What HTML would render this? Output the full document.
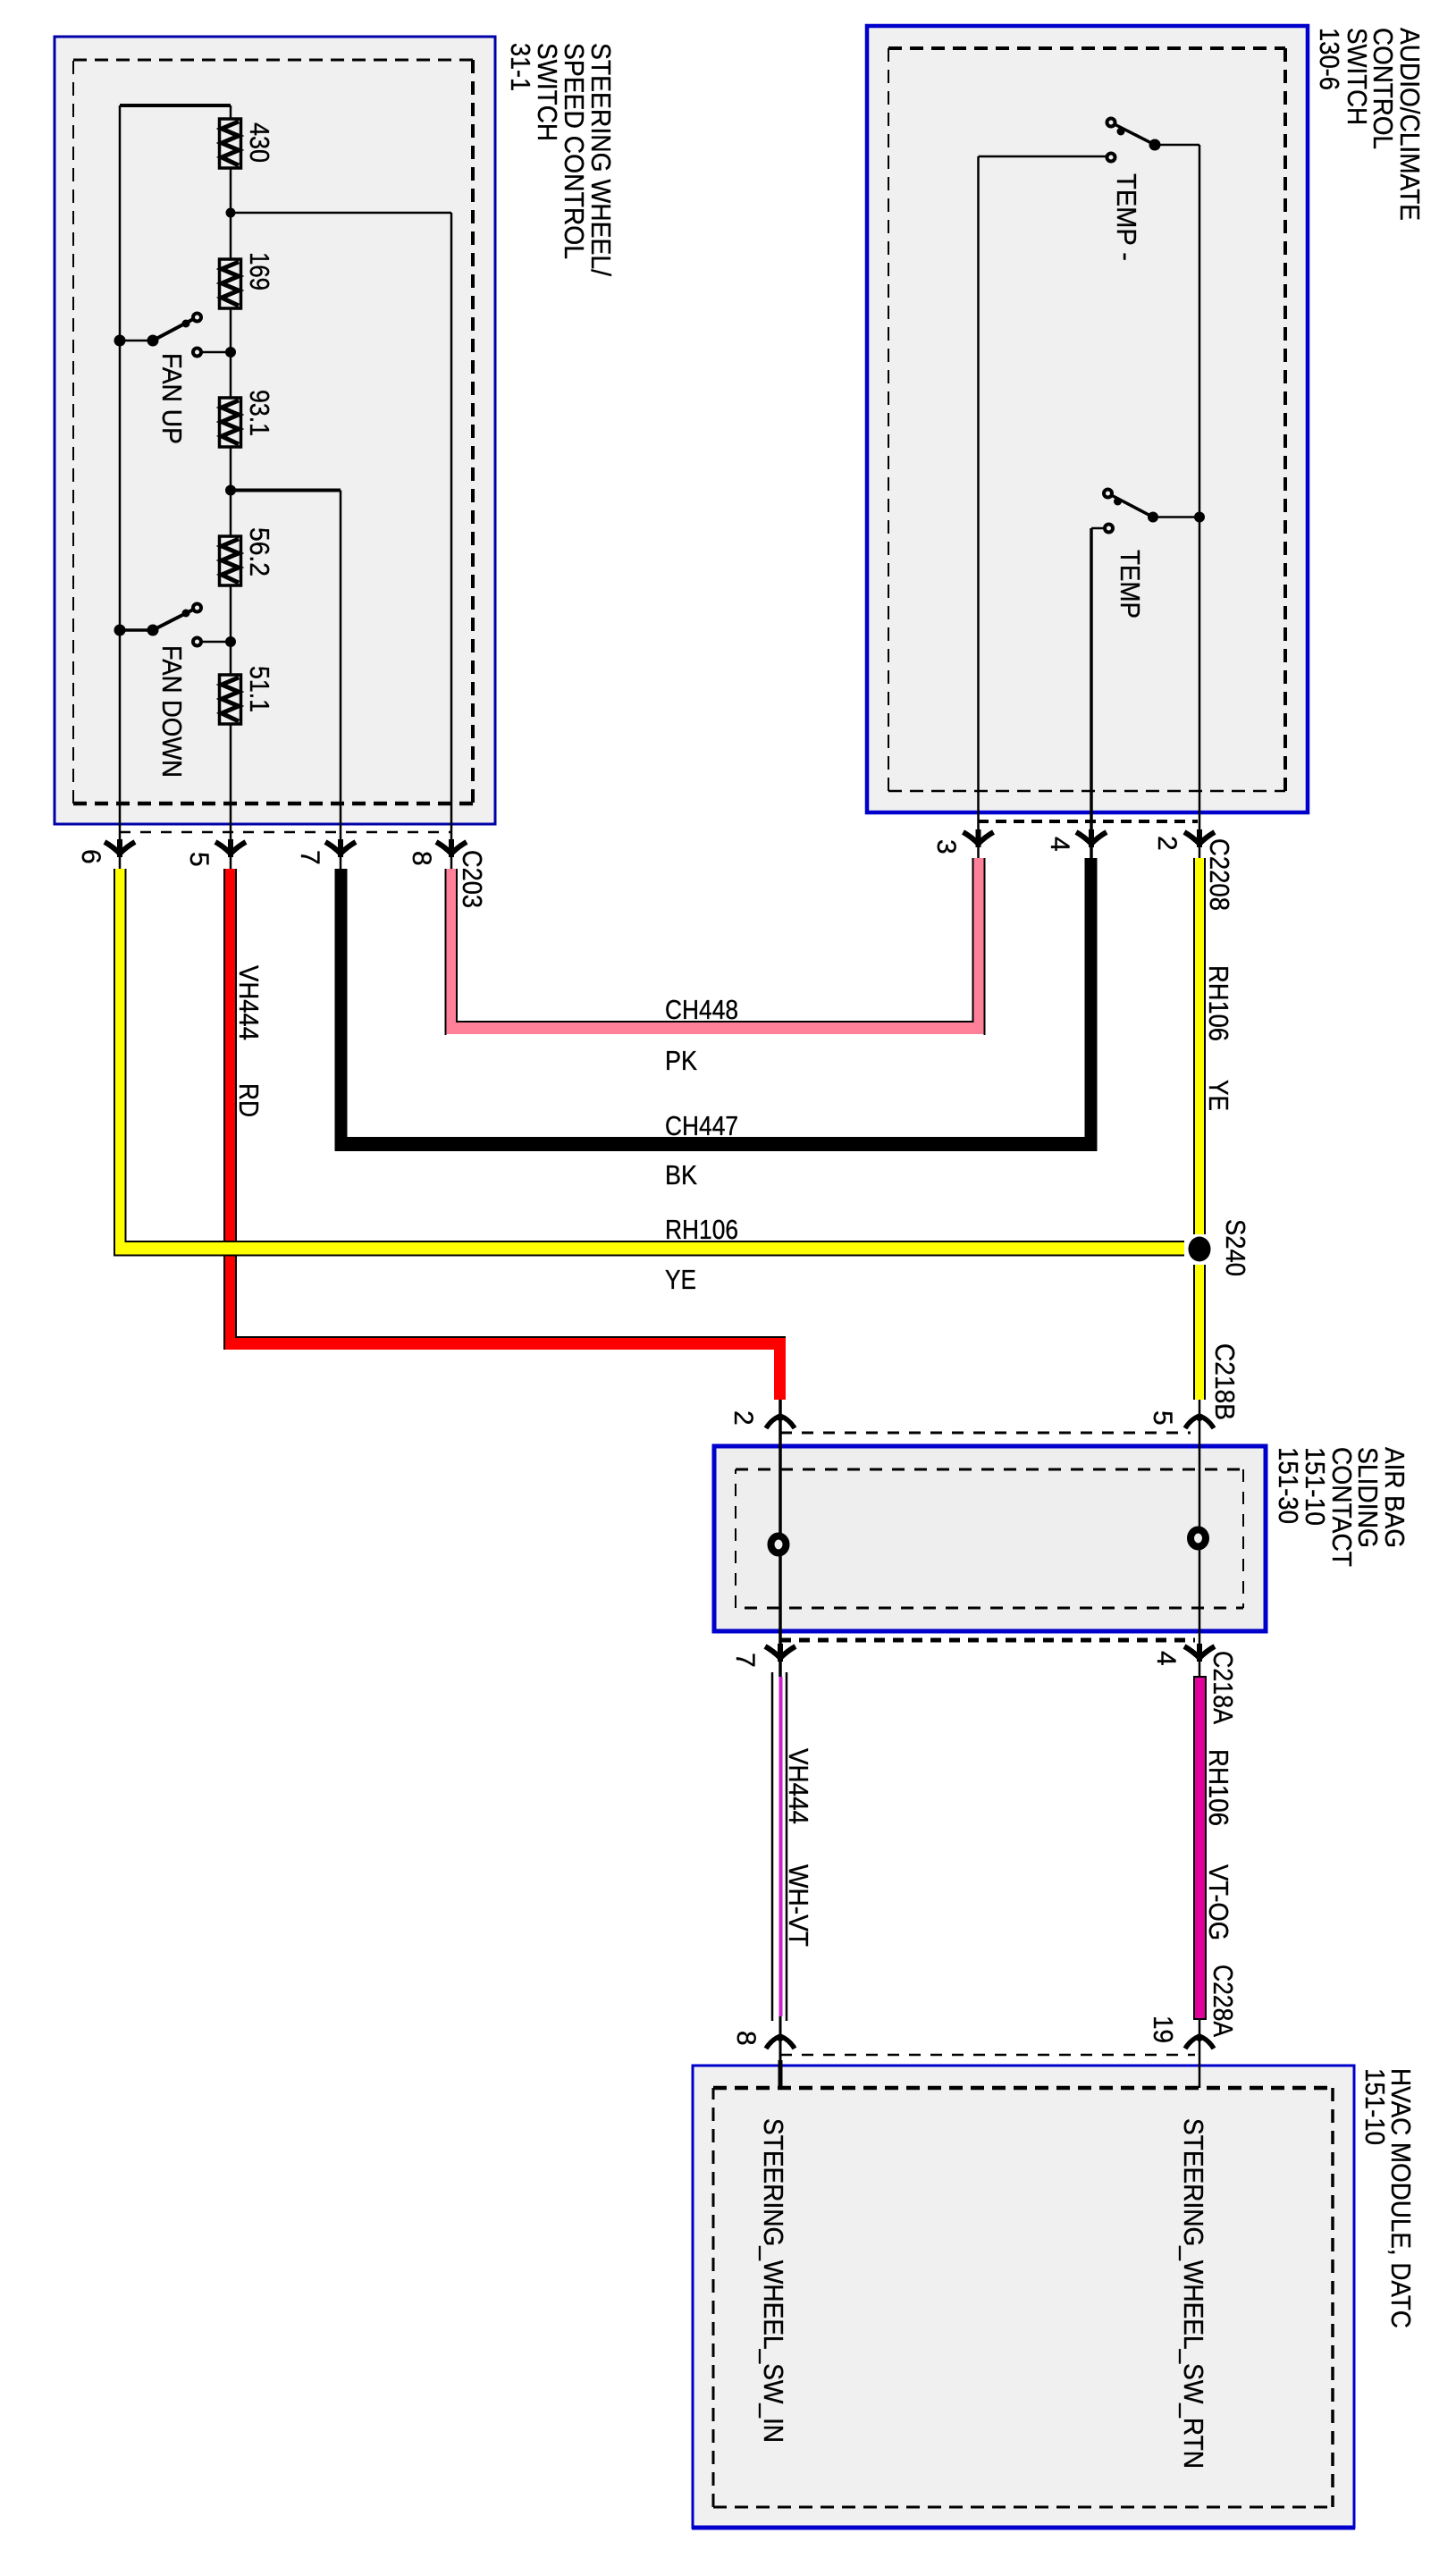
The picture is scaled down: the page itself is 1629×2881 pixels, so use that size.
<!DOCTYPE html>
<html>
<head>
<meta charset="utf-8">
<title>Wiring diagram</title>
<style>
html,body{margin:0;padding:0;background:#fff;width:1629px;height:2881px;overflow:hidden}
svg{display:block}
text{font-family:"Liberation Sans",Arial,sans-serif;font-size:31px;fill:#000;stroke:#000;stroke-width:.35px}
text:not([textLength]){font-size:30px}
</style>
</head>
<body>
<svg width="1629" height="2881" viewBox="0 0 1629 2881" xmlns="http://www.w3.org/2000/svg">
<defs>
<g id="res">
<rect x="245.5" y="133" width="24" height="55" fill="#f0f0f0" stroke="#000" stroke-width="3.5"/>
<polyline points="267,136 248,144 267,152 248,160 267,168 248,176 267,185" fill="none" stroke="#000" stroke-width="5"/>
</g>
<g id="fd" fill="none" stroke="#000">
<path d="M-17,-7 Q-8,-2 0,6 Q8,-2 17,-7" stroke-width="6"/>
<path d="M0,-10 V10" stroke-width="6"/>
<circle cx="0" cy="3" r="5" fill="#000" stroke="none"/>
</g>
<g id="fu" fill="none" stroke="#000">
<path d="M-16,8 Q-10,-2 0,-6 Q10,-2 16,8" stroke-width="5.5"/>
<circle cx="0" cy="-4" r="4" fill="#000" stroke="none"/>
</g>
</defs>
<rect width="1629" height="2881" fill="#fff"/>

<!-- Box 1 -->
<rect x="61" y="41" width="493" height="881" fill="#f0f0f0" stroke="#0000a8" stroke-width="3"/>
<g fill="none" stroke="#000" stroke-dasharray="15 9">
<path d="M82,899 V67" stroke-width="2"/>
<path d="M82,67 H529" stroke-width="3"/>
<path d="M529,67 V899" stroke-width="4"/>
<path d="M82,899 H529" stroke-width="4.5"/>
</g>
<path d="M134,931 H505" fill="none" stroke="#000" stroke-width="2.5" stroke-dasharray="12 11"/>

<!-- Box 2 -->
<rect x="970" y="29" width="493" height="880" fill="#f0f0f0" stroke="#0000cc" stroke-width="4.5"/>
<g fill="none" stroke="#000" stroke-dasharray="15 9">
<path d="M994,885 V54" stroke-width="2"/>
<path d="M994,54 H1438" stroke-width="4"/>
<path d="M1438,54 V885" stroke-width="4"/>
<path d="M994,885 H1438" stroke-width="2.5"/>
</g>
<path d="M1094,919 H1340" fill="none" stroke="#000" stroke-width="4" stroke-dasharray="12 8"/>

<!-- Box 3 -->
<rect x="799" y="1618" width="617" height="207" fill="#eeeeee" stroke="#0000cc" stroke-width="5"/>
<g fill="none" stroke="#000" stroke-dasharray="14 11">
<path d="M823,1799 V1644" stroke-width="2"/>
<path d="M823,1644 H1391" stroke-width="3"/>
<path d="M1391,1644 V1799" stroke-width="2"/>
<path d="M833,1799 H1391" stroke-width="3"/>
</g>
<path d="M873,1603 H1332" fill="none" stroke="#000" stroke-width="3" stroke-dasharray="13 11"/>
<path d="M873,1835 H1337" fill="none" stroke="#000" stroke-width="5" stroke-dasharray="12 9"/>

<!-- Box 4 -->
<rect x="775" y="2311" width="740" height="517" fill="#f0f0f0" stroke="#0000cc" stroke-width="3"/>
<path d="M774,2828 H1516" stroke="#0000cc" stroke-width="5" fill="none"/>
<g fill="none" stroke="#000" stroke-dasharray="15 9">
<path d="M798,2805 V2336" stroke-width="3"/>
<path d="M798,2336 H1491" stroke-width="4.5"/>
<path d="M1491,2336 V2805" stroke-width="3.5"/>
<path d="M798,2805 H1491" stroke-width="3"/>
</g>
<path d="M873,2299 H1337" fill="none" stroke="#000" stroke-width="2.5" stroke-dasharray="13 11"/>

<!-- Box 1 wiring -->
<g fill="none" stroke="#000" stroke-width="2.5">
<path d="M134,118 V972"/>
<path d="M258,118 V972"/>
<path d="M381,548.5 V972"/>
<path d="M505,238 V972"/>
<path d="M258,238 H505"/>
<path d="M134,118 H258" stroke-width="4"/>
<path d="M258,548.5 H381" stroke-width="4"/>
<path d="M134,381 H171"/>
<path d="M220,394 H258"/>
<path d="M134,705 H171" stroke-width="3.5"/>
<path d="M220,718 H258"/>
<path d="M171,381 L220,355" stroke-width="4"/>
<path d="M171,705 L220,680" stroke-width="4"/>
</g>
<use href="#res"/>
<use href="#res" y="157"/>
<use href="#res" y="312"/>
<use href="#res" y="467"/>
<use href="#res" y="622"/>
<g fill="#000">
<circle cx="258" cy="238" r="5.5"/>
<circle cx="258" cy="548.5" r="6"/>
<circle cx="134" cy="381" r="6.5"/>
<circle cx="171" cy="381" r="6.5"/>
<circle cx="208" cy="362" r="4.5"/>
<circle cx="258" cy="394" r="6"/>
<circle cx="134" cy="705" r="6.5"/>
<circle cx="171" cy="705" r="6.5"/>
<circle cx="208" cy="686" r="4.5"/>
<circle cx="258" cy="718" r="6"/>
</g>
<g fill="#f0f0f0" stroke="#000" stroke-width="4">
<circle cx="220.5" cy="355" r="4.5"/>
<circle cx="220.5" cy="394" r="4.5"/>
<circle cx="220.5" cy="680" r="4.5"/>
<circle cx="220.5" cy="718" r="4.5"/>
</g>

<!-- Box 2 wiring -->
<g fill="none" stroke="#000" stroke-width="2.5">
<path d="M1094.5,175 V960"/>
<path d="M1094.5,175 H1243"/>
<path d="M1342,162 V960"/>
<path d="M1292,162 H1342"/>
<path d="M1290,578.5 H1342"/>
<path d="M1221,591 V960" stroke-width="3.5"/>
<path d="M1221,591 H1240"/>
<path d="M1243,137 L1292,162" stroke-width="3.5"/>
<path d="M1239.5,552 L1290,578.5" stroke-width="3.5"/>
</g>
<g fill="#000">
<circle cx="1292" cy="162" r="6.5"/>
<circle cx="1254" cy="147" r="4.5"/>
<circle cx="1290" cy="578.5" r="6"/>
<circle cx="1250.5" cy="561" r="4.5"/>
<circle cx="1342" cy="578.5" r="6"/>
</g>
<g fill="#f0f0f0" stroke="#000" stroke-width="4">
<circle cx="1243" cy="137" r="4.5"/>
<circle cx="1243" cy="176" r="4.5"/>
<circle cx="1239.5" cy="552" r="4.5"/>
<circle cx="1240.5" cy="591" r="4.5"/>
</g>

<!-- Connector forks -->
<use href="#fd" x="134" y="949"/>
<use href="#fd" x="258" y="949"/>
<use href="#fd" x="381" y="949"/>
<use href="#fd" x="505" y="949"/>
<use href="#fd" x="1094.5" y="938"/>
<use href="#fd" x="1221" y="938"/>
<use href="#fd" x="1342" y="938"/>
<use href="#fd" x="873" y="1849"/>
<use href="#fd" x="1342" y="1849"/>
<use href="#fu" x="873" y="1590"/>
<use href="#fu" x="1342" y="1590"/>
<use href="#fu" x="873" y="2284"/>
<use href="#fu" x="1342" y="2284"/>

<!-- Thin pass-through wires -->
<g fill="none" stroke="#000" stroke-width="3">
<path d="M873,1566 V1876" stroke-width="3.5"/>
<path d="M1342,1566 V1876" stroke-width="2.5"/>
<path d="M873,2255 V2305"/>
<path d="M873,2305 V2336" stroke-width="5"/>
<path d="M1342,2258 V2336" stroke-width="2.5"/>
</g>

<!-- Rings -->
<g fill="#eeeeee" stroke="#000" stroke-width="8">
<ellipse cx="871" cy="1728" rx="8.5" ry="9.5"/>
<ellipse cx="1340.5" cy="1721" rx="8.5" ry="9.5"/>
</g>

<!-- Pink harness -->
<path d="M498,972 H511.5 V1142 H1088 V960 H1102 V1157 H498 Z" fill="#ff8099"/>
<path d="M498.5,972 V1158 M511,972 V1143 H1088.5 V960 M1101.5,960 V1158" fill="none" stroke="#000" stroke-width="2"/>

<!-- Black harness -->
<path d="M374.5,972 H388.5 V1272 H1213.5 V960 H1227.5 V1288 H374.5 Z" fill="#000"/>

<!-- Red harness -->
<path d="M250.5,972 H264.5 V1495 H879 V1566 H866 V1510 H250.5 Z" fill="#ff0000"/>
<path d="M251,972 V1510 M264,972 V1496 H879" fill="none" stroke="#000" stroke-width="2"/>

<!-- Yellow harnesses -->
<path d="M127.5,972 H141 V1388 H1325 V1405 H127.5 Z" fill="#ffff00"/>
<path d="M128,972 V1404.5 H1325 M140.5,972 V1389 H1325" fill="none" stroke="#000" stroke-width="2"/>
<rect x="1335" y="960" width="14" height="421" fill="#ffff00"/>
<path d="M1336,960 V1381 M1348,960 V1381" fill="none" stroke="#000" stroke-width="2"/>
<rect x="1335" y="1415" width="14" height="151" fill="#ffff00"/>
<path d="M1336,1415 V1566 M1348,1415 V1566" fill="none" stroke="#000" stroke-width="2"/>
<ellipse cx="1342" cy="1397.5" rx="12.5" ry="14" fill="#000"/>

<!-- Magenta wires -->
<rect x="1336" y="1876" width="13" height="383" fill="#e0009c" stroke="#000" stroke-width="2"/>
<rect x="871.5" y="1876" width="4" height="380" fill="#cc22cc"/>
<path d="M864,1871 V2261 M880,1871 V2261" fill="none" stroke="#000" stroke-width="2.5"/>

<!-- Rotated labels: box 1 -->
<text transform="translate(662,48) rotate(90)" textLength="261" lengthAdjust="spacingAndGlyphs">STEERING WHEEL/</text>
<text transform="translate(632,48) rotate(90)" textLength="242" lengthAdjust="spacingAndGlyphs">SPEED CONTROL</text>
<text transform="translate(602,48) rotate(90)" textLength="110" lengthAdjust="spacingAndGlyphs">SWITCH</text>
<text transform="translate(572,48) rotate(90)" textLength="54" lengthAdjust="spacingAndGlyphs">31-1</text>
<text transform="translate(280,137) rotate(90)" textLength="45" lengthAdjust="spacingAndGlyphs">430</text>
<text transform="translate(280,282) rotate(90)" textLength="43" lengthAdjust="spacingAndGlyphs">169</text>
<text transform="translate(280,436) rotate(90)" textLength="52" lengthAdjust="spacingAndGlyphs">93.1</text>
<text transform="translate(280,590) rotate(90)" textLength="55" lengthAdjust="spacingAndGlyphs">56.2</text>
<text transform="translate(280,745) rotate(90)" textLength="52" lengthAdjust="spacingAndGlyphs">51.1</text>
<text transform="translate(182,395) rotate(90)" textLength="102" lengthAdjust="spacingAndGlyphs">FAN UP</text>
<text transform="translate(182,722) rotate(90)" textLength="148" lengthAdjust="spacingAndGlyphs">FAN DOWN</text>

<!-- connector numbers -->
<text transform="translate(92,950) rotate(90)">6</text>
<text transform="translate(213,953) rotate(90)">5</text>
<text transform="translate(337,951) rotate(90)">7</text>
<text transform="translate(462,952) rotate(90)">8</text>
<text transform="translate(518,951) rotate(90)" textLength="65" lengthAdjust="spacingAndGlyphs">C203</text>
<text transform="translate(1049,939) rotate(90)">3</text>
<text transform="translate(1176,936) rotate(90)">4</text>
<text transform="translate(1296,935) rotate(90)">2</text>
<text transform="translate(1354,938) rotate(90)" textLength="81" lengthAdjust="spacingAndGlyphs">C2208</text>

<!-- Box 2 labels -->
<text transform="translate(1567,31) rotate(90)" textLength="216" lengthAdjust="spacingAndGlyphs">AUDIO/CLIMATE</text>
<text transform="translate(1537,31) rotate(90)" textLength="136" lengthAdjust="spacingAndGlyphs">CONTROL</text>
<text transform="translate(1508,31) rotate(90)" textLength="109" lengthAdjust="spacingAndGlyphs">SWITCH</text>
<text transform="translate(1477,31) rotate(90)" textLength="70" lengthAdjust="spacingAndGlyphs">130-6</text>
<text transform="translate(1250,194) rotate(90)" textLength="98" lengthAdjust="spacingAndGlyphs">TEMP -</text>
<text transform="translate(1254,615) rotate(90)" textLength="77" lengthAdjust="spacingAndGlyphs">TEMP</text>

<!-- Horizontal wire labels -->
<text x="744" y="1140" textLength="82" lengthAdjust="spacingAndGlyphs">CH448</text>
<text x="744" y="1197" textLength="36" lengthAdjust="spacingAndGlyphs">PK</text>
<text x="744" y="1270" textLength="82" lengthAdjust="spacingAndGlyphs">CH447</text>
<text x="744" y="1325" textLength="36" lengthAdjust="spacingAndGlyphs">BK</text>
<text x="744" y="1386" textLength="82" lengthAdjust="spacingAndGlyphs">RH106</text>
<text x="744" y="1442" textLength="35" lengthAdjust="spacingAndGlyphs">YE</text>

<!-- Vertical wire labels -->
<text transform="translate(268,1080) rotate(90)" textLength="84" lengthAdjust="spacingAndGlyphs">VH444</text>
<text transform="translate(268,1212) rotate(90)" textLength="38" lengthAdjust="spacingAndGlyphs">RD</text>
<text transform="translate(1353,1080) rotate(90)" textLength="85" lengthAdjust="spacingAndGlyphs">RH106</text>
<text transform="translate(1353,1208) rotate(90)" textLength="35" lengthAdjust="spacingAndGlyphs">YE</text>
<text transform="translate(1372,1364) rotate(90)" textLength="64" lengthAdjust="spacingAndGlyphs">S240</text>
<text transform="translate(1360,1503) rotate(90)" textLength="86" lengthAdjust="spacingAndGlyphs">C218B</text>
<text transform="translate(822,1578) rotate(90)">2</text>
<text transform="translate(1291,1578) rotate(90)">5</text>

<!-- Box 3 labels -->
<text transform="translate(1550,1619) rotate(90)" textLength="113" lengthAdjust="spacingAndGlyphs">AIR BAG</text>
<text transform="translate(1520,1619) rotate(90)" textLength="113" lengthAdjust="spacingAndGlyphs">SLIDING</text>
<text transform="translate(1491,1619) rotate(90)" textLength="134" lengthAdjust="spacingAndGlyphs">CONTACT</text>
<text transform="translate(1461,1619) rotate(90)" textLength="88" lengthAdjust="spacingAndGlyphs">151-10</text>
<text transform="translate(1431,1619) rotate(90)" textLength="86" lengthAdjust="spacingAndGlyphs">151-30</text>

<text transform="translate(824,1849) rotate(90)">7</text>
<text transform="translate(1295,1847) rotate(90)">4</text>
<text transform="translate(1358,1847) rotate(90)" textLength="82" lengthAdjust="spacingAndGlyphs">C218A</text>
<text transform="translate(883,1956) rotate(90)" textLength="85" lengthAdjust="spacingAndGlyphs">VH444</text>
<text transform="translate(883,2086) rotate(90)" textLength="92" lengthAdjust="spacingAndGlyphs">WH-VT</text>
<text transform="translate(1353,1957) rotate(90)" textLength="86" lengthAdjust="spacingAndGlyphs">RH106</text>
<text transform="translate(1353,2086) rotate(90)" textLength="85" lengthAdjust="spacingAndGlyphs">VT-OG</text>
<text transform="translate(1358,2198) rotate(90)" textLength="81" lengthAdjust="spacingAndGlyphs">C228A</text>
<text transform="translate(825,2272) rotate(90)">8</text>
<text transform="translate(1291,2255) rotate(90)" textLength="31" lengthAdjust="spacingAndGlyphs">19</text>

<!-- Box 4 labels -->
<text transform="translate(1557,2314) rotate(90)" textLength="291" lengthAdjust="spacingAndGlyphs">HVAC MODULE, DATC</text>
<text transform="translate(1528,2314) rotate(90)" textLength="86" lengthAdjust="spacingAndGlyphs">151-10</text>
<text transform="translate(855,2370) rotate(90)" textLength="363" lengthAdjust="spacingAndGlyphs">STEERING_WHEEL_SW_IN</text>
<text transform="translate(1325,2370) rotate(90)" textLength="392" lengthAdjust="spacingAndGlyphs">STEERING_WHEEL_SW_RTN</text>
</svg>
</body>
</html>
